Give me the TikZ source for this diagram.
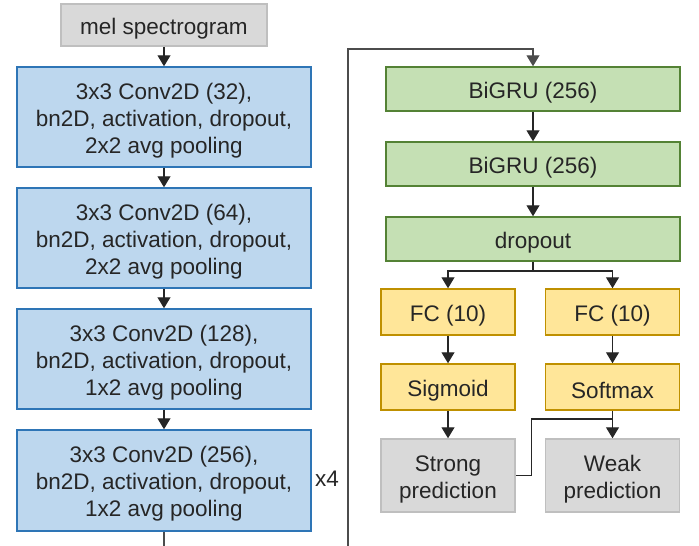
\documentclass[tikz,border=0pt]{standalone}
\usepackage{fontspec}
\setmainfont{Liberation Sans}
\usetikzlibrary{arrows.meta}
\definecolor{bluefill}{HTML}{BDD7EE}
\definecolor{blueline}{HTML}{2E75B6}
\definecolor{greenfill}{HTML}{C5E0B4}
\definecolor{greenline}{HTML}{548235}
\definecolor{yellowfill}{HTML}{FFE699}
\definecolor{yellowline}{HTML}{BF9000}
\definecolor{grayfill}{HTML}{D9D9D9}
\definecolor{grayline}{HTML}{BFBFBF}
\definecolor{conn}{HTML}{262626}
\newcommand\tstrut{\rule{0pt}{23.5pt}}
\tikzset{
  box/.style={draw, line width=1.5pt, inner sep=0pt, align=center,
    font=\fontsize{22.5}{27}\selectfont, text=black!85},
  convbox/.style={box, fill=bluefill, draw=blueline, minimum width=294pt, minimum height=100pt},
  grubox/.style={box, fill=greenfill, draw=greenline, minimum width=294pt, minimum height=44pt},
  fcbox/.style={box, fill=yellowfill, draw=yellowline, minimum width=134pt, minimum height=46pt},
  greybox/.style={box, fill=grayfill, draw=grayline},
  link/.style={draw=conn, line width=1.2pt},
  arr/.style={link, -{Triangle[width=13pt,length=11pt]}}
}
\begin{document}
\begin{tikzpicture}[x=1pt,y=-1pt]
\clip (0,0) rectangle (699,546);
\fill[white] (0,0) rectangle (699,546);
% left column
\node[greybox, minimum width=206pt, minimum height=42pt] (mel) at (164,25) {\tstrut mel spectrogram};
\node[convbox] (c1) at (164,117) {\tstrut 3x3 Conv2D (32),\\bn2D, activation, dropout,\\2x2 avg pooling};
\node[convbox] (c2) at (164,238) {\tstrut 3x3 Conv2D (64),\\bn2D, activation, dropout,\\2x2 avg pooling};
\node[convbox] (c3) at (164,359) {\tstrut 3x3 Conv2D (128),\\bn2D, activation, dropout,\\1x2 avg pooling};
\node[convbox, minimum height=101pt] (c4) at (164,480.5) {\tstrut 3x3 Conv2D (256),\\bn2D, activation, dropout,\\1x2 avg pooling};
\node[font=\fontsize{22.5}{27}\selectfont, text=black!85] (x4) at (327,479) {x4};
% right column
\node[grubox] (bg1) at (533,89) {\tstrut BiGRU (256)};
\node[grubox] (bg2) at (533,164) {\tstrut BiGRU (256)};
\node[grubox] (dp) at (533,239) {\tstrut dropout};
\node[fcbox] (fc1) at (448,312) {\tstrut FC (10)};
\node[fcbox] (fc2) at (612.5,312) {\tstrut FC (10)};
\node[fcbox] (sg) at (448,387) {\tstrut Sigmoid};
\node[fcbox] (sm) at (612.5,387) {\tstrut Softmax};
\node[greybox, minimum width=134pt, minimum height=73pt] (sp) at (448,475.5) {\tstrut Strong\\prediction};
\node[greybox, minimum width=134pt, minimum height=73pt] (wp) at (612.5,475.5) {\tstrut Weak\\prediction};
% coordinates
\coordinate (lowR) at (348,560);
\coordinate (topL) at (348,49);
\coordinate (split) at (533,271);
\coordinate (join) at (612.5,419);
% connectors
\draw[arr] (mel) -- (c1);
\draw[arr] (c1) -- (c2);
\draw[arr] (c2) -- (c3);
\draw[arr] (c3) -- (c4);
\draw[arr, draw=black!70] (c4.south) |- (lowR) -- (topL) -| (bg1.north);
\draw[arr] (bg1) -- (bg2);
\draw[arr] (bg2) -- (dp);
\draw[link] (dp.south) -- (split);
\draw[arr] (split) -| (fc1.north);
\draw[arr] (split) -| (fc2.north);
\draw[arr] (fc1) -- (sg);
\draw[arr] (fc2) -- (sm);
\draw[arr] (sg) -- (sp);
\draw[arr] (sm) -- (wp);
\draw[link] (sp.east) -- ++(16,0) |- (join);
\end{tikzpicture}
\end{document}
